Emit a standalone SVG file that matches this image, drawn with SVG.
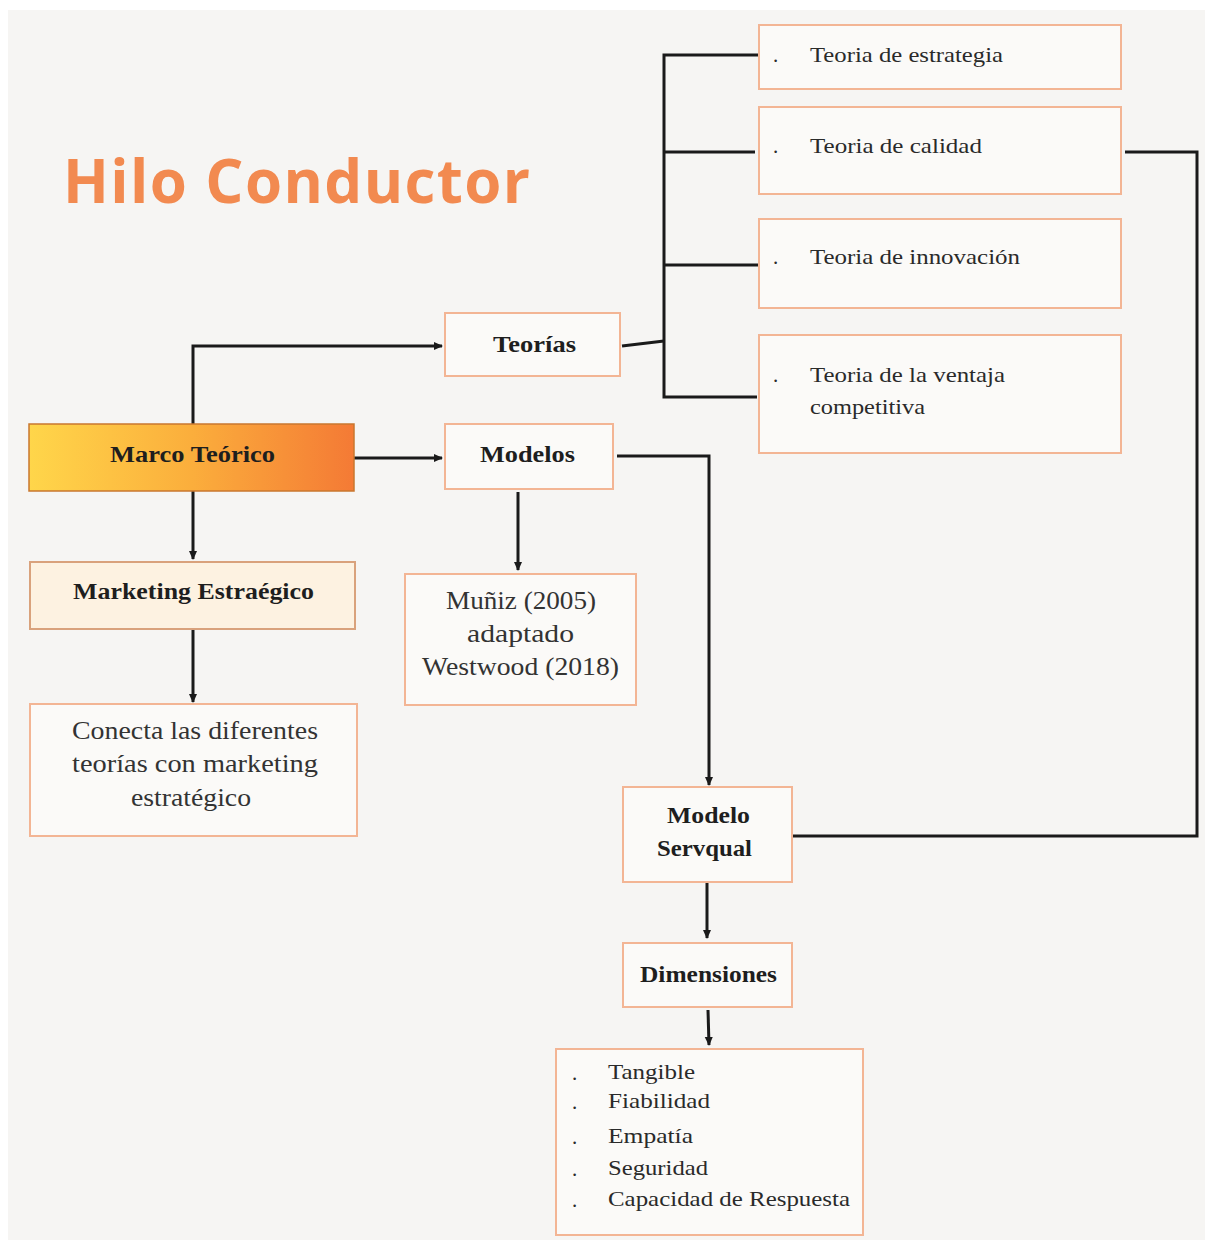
<svg xmlns="http://www.w3.org/2000/svg" width="1211" height="1242" viewBox="0 0 1211 1242">
<defs>
<linearGradient id="gMarco" x1="0" y1="0" x2="1" y2="0">
<stop offset="0" stop-color="#ffd64a"/>
<stop offset="0.5" stop-color="#fbae3c"/>
<stop offset="1" stop-color="#f47a35"/>
</linearGradient>
<marker id="arr" markerWidth="10" markerHeight="10" refX="8" refY="5" orient="auto" markerUnits="userSpaceOnUse">
<path d="M0,1 L9,5 L0,9 Z" fill="#1a1a1a"/>
</marker>
<style>
.box{fill:#fbfaf8;stroke:#f3b594;stroke-width:2}
.t{font-family:"Liberation Serif","Times New Roman",serif;fill:#1e1e1e}
.b{font-weight:bold;font-size:23px}
.s{font-size:21px;fill:#2a2a2a}
.m{font-size:25px;fill:#333}
.c{fill:none;stroke:#1a1a1a;stroke-width:3}
</style>
</defs>
<rect x="0" y="0" width="1211" height="1242" fill="#ffffff"/>
<rect x="8" y="10" width="1197" height="1230" fill="#f6f5f3"/>
<text x="63" y="203" font-family="'Open Sans','Noto Sans',sans-serif" font-weight="bold" font-size="60" fill="#f28a50" textLength="467">Hilo Conductor</text>

<g id="connectors">
<path class="c" d="M193,424 V346 H442" marker-end="url(#arr)"/>
<path class="c" d="M354,458 H442" marker-end="url(#arr)"/>
<path class="c" d="M193,491 V559" marker-end="url(#arr)"/>
<path class="c" d="M193,629 V702" marker-end="url(#arr)"/>
<path class="c" d="M518,492 V570" marker-end="url(#arr)"/>
<path class="c" d="M617,456 H709 V785" marker-end="url(#arr)"/>
<path class="c" d="M622,346 L664,341"/>
<path class="c" d="M759,55 H664 V397 H757"/>
<path class="c" d="M664,152 H755"/>
<path class="c" d="M664,265 H759"/>
<path class="c" d="M1125,152 H1197 V836 H792"/>
<path class="c" d="M707,882 V938" marker-end="url(#arr)"/>
<path class="c" d="M708,1010 L709,1045" marker-end="url(#arr)"/>
</g>

<g id="t-estrategia">
<rect class="box" x="759" y="25" width="362" height="64"/>
<text class="t s" x="773" y="62">.</text>
<text class="t s" x="810" y="62" textLength="193" lengthAdjust="spacingAndGlyphs">Teoria de estrategia</text>
</g>
<g id="t-calidad">
<rect class="box" x="759" y="107" width="362" height="87"/>
<text class="t s" x="773" y="153">.</text>
<text class="t s" x="810" y="153" textLength="172" lengthAdjust="spacingAndGlyphs">Teoria de calidad</text>
</g>
<g id="t-innovacion">
<rect class="box" x="759" y="219" width="362" height="89"/>
<text class="t s" x="773" y="264">.</text>
<text class="t s" x="810" y="264" textLength="210" lengthAdjust="spacingAndGlyphs">Teoria de innovación</text>
</g>
<g id="t-ventaja">
<rect class="box" x="759" y="335" width="362" height="118"/>
<text class="t s" x="773" y="382">.</text>
<text class="t s" x="810" y="382" textLength="195" lengthAdjust="spacingAndGlyphs">Teoria de la ventaja</text>
<text class="t s" x="810" y="414" textLength="115" lengthAdjust="spacingAndGlyphs">competitiva</text>
</g>
<g id="teorias">
<rect class="box" x="445" y="313" width="175" height="63"/>
<text class="t b" x="493" y="352" textLength="83" lengthAdjust="spacingAndGlyphs">Teorías</text>
</g>
<g id="marco">
<rect x="29" y="424" width="325" height="67" fill="url(#gMarco)" stroke="#c9772f" stroke-width="1.5"/>
<text class="t b" x="110" y="462" textLength="165" lengthAdjust="spacingAndGlyphs">Marco Teórico</text>
</g>
<g id="modelos">
<rect class="box" x="445" y="424" width="168" height="65"/>
<text class="t b" x="480" y="462" textLength="95" lengthAdjust="spacingAndGlyphs">Modelos</text>
</g>
<g id="marketing">
<rect x="30" y="562" width="325" height="67" fill="#fdf2e1" stroke="#d9a27c" stroke-width="2"/>
<text class="t b" x="73" y="599" textLength="241" lengthAdjust="spacingAndGlyphs">Marketing Estraégico</text>
</g>
<g id="muniz">
<rect class="box" x="405" y="574" width="231" height="131"/>
<text class="t m" x="446" y="609" textLength="150" lengthAdjust="spacingAndGlyphs">Muñiz (2005)</text>
<text class="t m" x="467" y="642" textLength="107" lengthAdjust="spacingAndGlyphs">adaptado</text>
<text class="t m" x="422" y="675" textLength="197" lengthAdjust="spacingAndGlyphs">Westwood (2018)</text>
</g>
<g id="conecta">
<rect class="box" x="30" y="704" width="327" height="132"/>
<text class="t m" x="72" y="739" textLength="246" lengthAdjust="spacingAndGlyphs">Conecta las diferentes</text>
<text class="t m" x="72" y="772" textLength="246" lengthAdjust="spacingAndGlyphs">teorías con marketing</text>
<text class="t m" x="131" y="806" textLength="120" lengthAdjust="spacingAndGlyphs">estratégico</text>
</g>
<g id="servqual">
<rect class="box" x="623" y="787" width="169" height="95"/>
<text class="t b" x="667" y="823" textLength="83" lengthAdjust="spacingAndGlyphs">Modelo</text>
<text class="t b" x="657" y="856" textLength="95" lengthAdjust="spacingAndGlyphs">Servqual</text>
</g>
<g id="dimensiones">
<rect class="box" x="623" y="943" width="169" height="64"/>
<text class="t b" x="640" y="982" textLength="137" lengthAdjust="spacingAndGlyphs">Dimensiones</text>
</g>
<g id="lista">
<rect class="box" x="556" y="1049" width="307" height="186"/>
<text class="t s" x="572" y="1080">.</text><text class="t s" x="608" y="1079" textLength="87" lengthAdjust="spacingAndGlyphs">Tangible</text>
<text class="t s" x="572" y="1109">.</text><text class="t s" x="608" y="1108" textLength="102" lengthAdjust="spacingAndGlyphs">Fiabilidad</text>
<text class="t s" x="572" y="1144">.</text><text class="t s" x="608" y="1143" textLength="85" lengthAdjust="spacingAndGlyphs">Empatía</text>
<text class="t s" x="572" y="1176">.</text><text class="t s" x="608" y="1175" textLength="100" lengthAdjust="spacingAndGlyphs">Seguridad</text>
<text class="t s" x="572" y="1207">.</text><text class="t s" x="608" y="1206" textLength="242" lengthAdjust="spacingAndGlyphs">Capacidad de Respuesta</text>
</g>
</svg>
